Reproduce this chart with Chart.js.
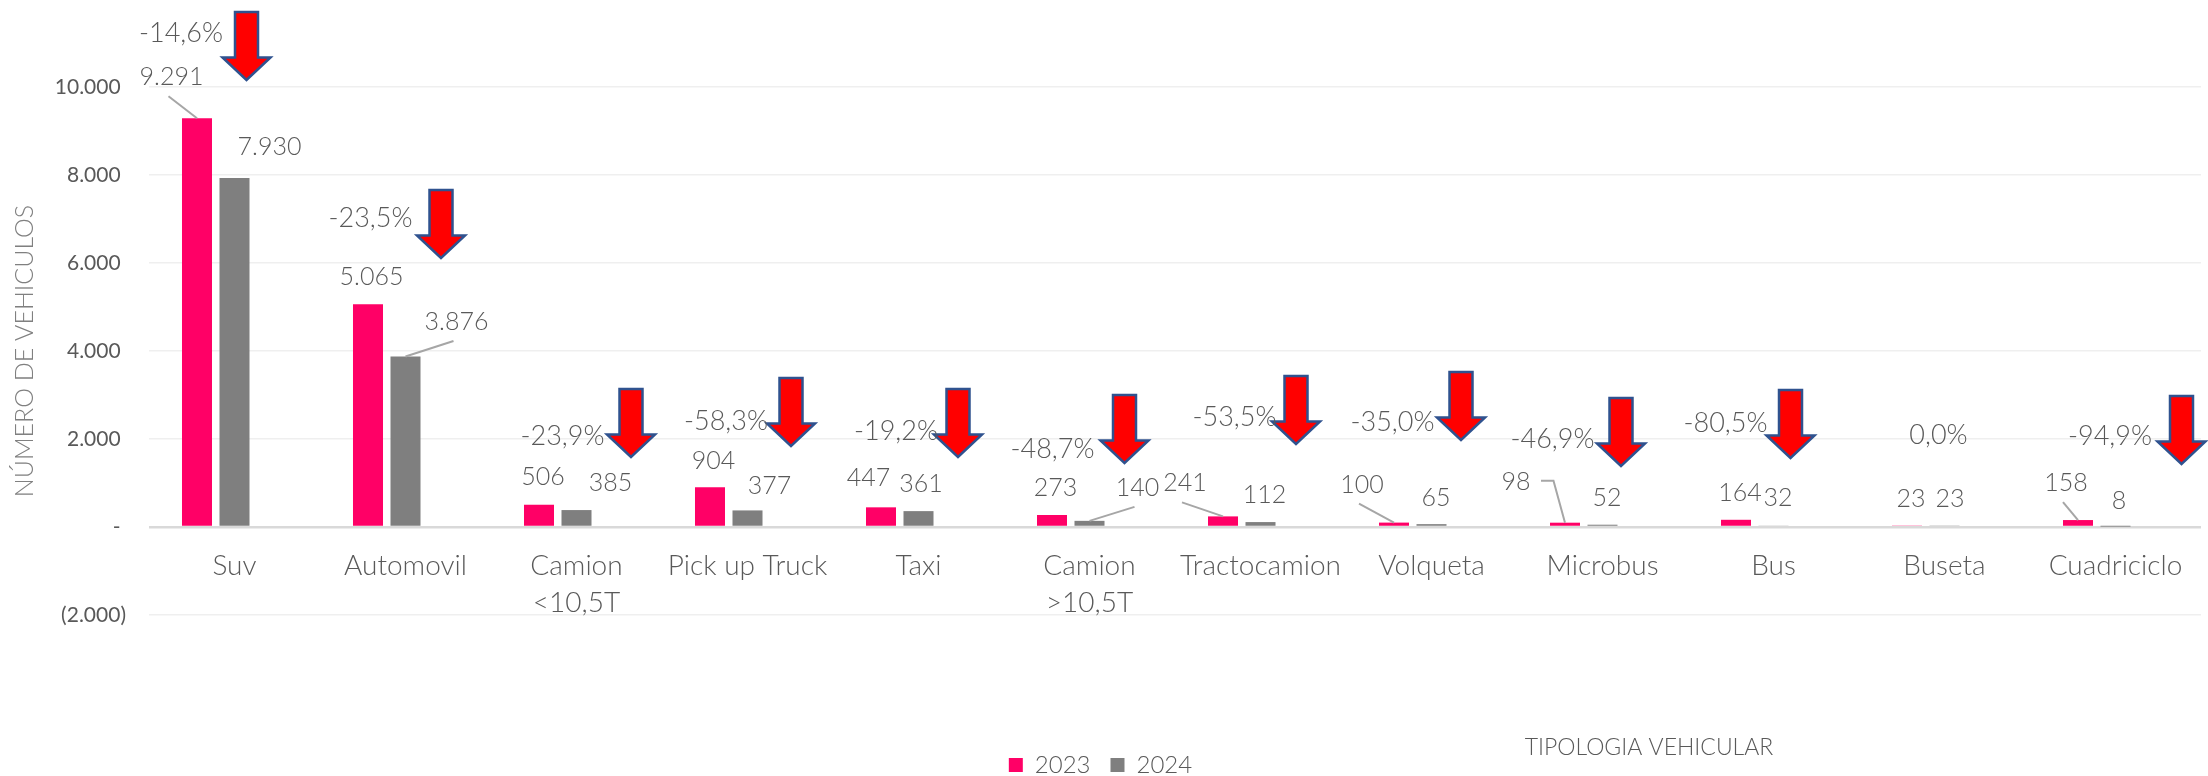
<!DOCTYPE html>
<html lang="es">
<head>
    <meta charset="UTF-8">
    <title>Tipologia vehicular 2023 - 2024</title>
    <script src="https://cdn.jsdelivr.net/npm/chart.js"></script>
    <style>
        html, body { margin: 0; padding: 0; background: #fff; }
        #grafico { display: block; }
    </style>
</head>
<body>
    <canvas id="grafico" width="2208" height="776"></canvas>
    <script>
        // Datos
        const categorias = ['Suv', 'Automovil', ['Camion', '<10,5T'], 'Pick up Truck', 'Taxi', ['Camion', '>10,5T'],
            'Tractocamion', 'Volqueta', 'Microbus', 'Bus', 'Buseta', 'Cuadriciclo'];
        const anios = ['2023', '2024'];
        const v2023 = [9291, 5065, 506, 904, 447, 273, 241, 100, 98, 164, 23, 158];
        const v2024 = [7930, 3876, 385, 377, 361, 140, 112, 65, 52, 32, 23, 8];
        const variacion = [-14.6, -23.5, -23.9, -58.3, -19.2, -48.7, -53.5, -35.0, -46.9, -80.5, 0.0, -94.9];
        const ticksY = [-2000, 0, 2000, 4000, 6000, 8000, 10000];

        // Posicion manual de etiquetas (px, relativo a la barra / categoria)
        const posVariacion = [[-53.5, -494], [-35, -309], [-14, -91], [-21.5, -106], [-22.5, -96], [-37, -78],
            [-26, -110], [-39, -105], [-50, -88], [-48, -104], [-6, -92], [-5.5, -91]];
        const posFlecha = [[12, -447], [35.5, -269], [54.5, -70], [43.5, -81], [39.5, -70], [35, -64],
            [35.5, -83], [29.5, -87], [18.5, -61], [17, -69], null, [66, -63]];
        const pos2023 = [[-25.5, -41, 'linea'], [3.5, -27], [4, -28], [3.5, -26], [-12.5, -29], [3.5, -27],
            [-38, -33, 'linea'], [-32, -38, 'linea'], [-49, -41, 'codo'], [4, -27], [4, -27], [-12, -37, 'linea']];
        const pos2024 = [[35, -31], [51, -34.5, 'linea'], [34, -27], [22, -24], [2.5, -27], [48, -33, 'linea'],
            [4, -27], [4.5, -26], [4.5, -27], [4.5, -28], [5.5, -27], [3.5, -26]];

        const ROSA = '#FF0066';
        const GRIS = '#7F7F7F';
        const TEXTO = '#595959';

        const miles = n => String(Math.abs(n)).replace(/\B(?=(\d{3})+(?!\d))/g, '.');
        const pct = v => v.toFixed(1).replace('.', ',') + '%';

        function flecha(ctx, tx, ty) {
            ctx.beginPath();
            ctx.moveTo(tx - 11.5, ty - 68);
            ctx.lineTo(tx + 11.5, ty - 68);
            ctx.lineTo(tx + 11.5, ty - 22.5);
            ctx.lineTo(tx + 24, ty - 22.5);
            ctx.lineTo(tx, ty);
            ctx.lineTo(tx - 24, ty - 22.5);
            ctx.lineTo(tx - 11.5, ty - 22.5);
            ctx.closePath();
            ctx.fillStyle = '#FF0000';
            ctx.fill();
            ctx.lineWidth = 2.5;
            ctx.strokeStyle = '#2F528F';
            ctx.lineJoin = 'miter';
            ctx.stroke();
        }

        const etiquetas = {
            id: 'etiquetas',
            afterDatasetsDraw(chart) {
                const { ctx, scales: { x, y } } = chart;
                const y0 = y.getPixelForValue(0);
                ctx.save();

                // flechas de variacion
                variacion.forEach((v, i) => {
                    const f = posFlecha[i];
                    if (f && v < 0) flecha(ctx, x.getPixelForValue(i) + f[0], y0 + f[1]);
                });

                ctx.textAlign = 'center';
                ctx.textBaseline = 'middle';
                ctx.fillStyle = TEXTO;
                ctx.font = '300 27px Lato';
                variacion.forEach((v, i) => {
                    const p = posVariacion[i];
                    ctx.fillText(pct(v), x.getPixelForValue(i) + p[0], y0 + p[1]);
                });

                // valores de cada barra
                ctx.font = '300 25px Lato';
                [[v2023, pos2023], [v2024, pos2024]].forEach(([vals, pos], d) => {
                    chart.getDatasetMeta(d).data.forEach((bar, i) => {
                        const o = pos[i];
                        const lx = bar.x + o[0], ly = bar.y + o[1];
                        if (o[2]) {
                            ctx.strokeStyle = '#A6A6A6';
                            ctx.lineWidth = 2;
                            ctx.beginPath();
                            if (o[2] === 'codo') {
                                ctx.moveTo(lx + 25, ly - 1);
                                ctx.lineTo(lx + 37.5, ly - 1);
                            } else {
                                ctx.moveTo(lx - 3, ly + 19);
                            }
                            ctx.lineTo(bar.x, bar.y);
                            ctx.stroke();
                        }
                        ctx.fillText(miles(vals[i]), lx, ly);
                    });
                });

                // titulo eje x
                ctx.font = '300 23px Lato';
                ctx.fillText('TIPOLOGIA VEHICULAR', 1649, 748);
                ctx.restore();
            }
        };

        const ctx = document.getElementById('grafico').getContext('2d');
        new Chart(ctx, {
            type: 'bar',
            data: {
                labels: categorias,
                datasets: [
                    { label: anios[0], data: v2023, backgroundColor: ROSA },
                    { label: anios[1], data: v2024, backgroundColor: GRIS },
                    { label: 'Variación', data: variacion, backgroundColor: 'rgba(0,0,0,0)' }
                ]
            },
            options: {
                responsive: false,
                animation: false,
                categoryPercentage: 0.658,
                barPercentage: 0.8,
                layout: { padding: { top: 87, right: 7, bottom: 0, left: 0 } },
                scales: {
                    x: {
                        position: { y: 0 },
                        grid: { display: false, drawTicks: false },
                        border: { display: false },
                        ticks: {
                            autoSkip: false,
                            maxRotation: 0,
                            padding: 21,
                            color: TEXTO,
                            font: { family: 'Lato', size: 28, weight: '300', lineHeight: 1.3 }
                        }
                    },
                    y: {
                        min: -2000,
                        max: 10000,
                        afterBuildTicks: s => { s.ticks = ticksY.map(v => ({ value: v })); },
                        afterFit: s => { s.width = 149; },
                        grid: {
                            drawTicks: false,
                            color: c => c.tick && c.tick.value === 0 ? '#D9D9D9' : '#EFEFEF',
                            lineWidth: c => c.tick && c.tick.value === 0 ? 2.5 : 1.5
                        },
                        border: { display: false },
                        ticks: {
                            padding: 23,
                            color: TEXTO,
                            font: { family: 'Lato', size: 21 },
                            callback: v => v > 0 ? miles(v) + ' ' : v < 0 ? '(' + miles(v) + ')' : '- '
                        },
                        title: {
                            display: true,
                            text: 'NÚMERO DE VEHICULOS',
                            color: '#808080',
                            font: { family: 'Lato', size: 25, weight: '300' },
                            padding: { top: 10, bottom: 0 }
                        }
                    }
                },
                plugins: {
                    legend: {
                        position: 'bottom',
                        maxHeight: 161,
                        title: { display: true, text: ' ', font: { size: 10 }, padding: { top: 106, bottom: 0 } },
                        labels: {
                            boxWidth: 14,
                            boxHeight: 14,
                            padding: 20,
                            color: TEXTO,
                            font: { family: 'Lato', size: 24, weight: '300' },
                            filter: item => item.datasetIndex < 2
                        }
                    },
                    tooltip: { enabled: false }
                }
            },
            plugins: [etiquetas]
        });
    </script>
</body>
</html>
